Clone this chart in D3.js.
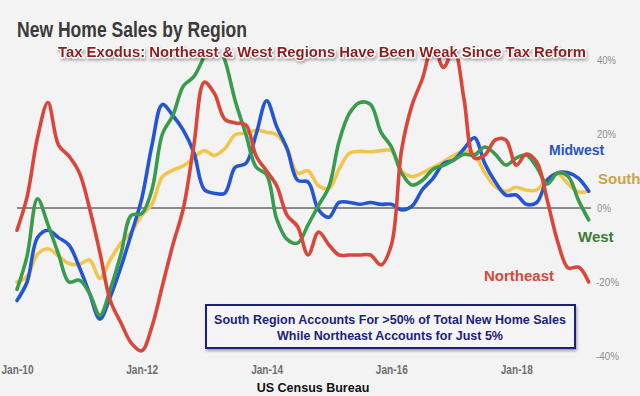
<!DOCTYPE html>
<html>
<head>
<meta charset="utf-8">
<script src="https://cdn.jsdelivr.net/npm/d3@7"></script>
<style>
    body { margin: 0; background: #f3f3f3; }
    svg { display: block; font-family: "Liberation Sans", Arial, sans-serif; }
</style>
</head>
<body>
<svg width="640" height="396"></svg>
<script>
// year-over-year change, % (sampled every 2 months, Dec-09 .. Apr-19)
const northeast = [-6, 3, 19, 28.5, 17, 14, 9.5, 0, -12, -25, -31, -36.5, -38.6, -32, -21, -10, 0, 17, 34, 31,
    24, 23, 22.5, 14, 10, 6, -2, -5, -12.7, -6.5, -10, -12.7, -12.7, -12.7, -12.7, -15.4, -10, 15.7, 27.8, 35,
    44, 38, 43, 29.5, 13.5, 14.3, 18.4, 18.4, 11.6, 14.6, 12.4, 2.2, -9.2, -16.2, -16, -20, -21.4]
const midwest = [-25, -20, -8, -6, -8, -10, -16, -23, -30, -24, -16, -7, 2.5, 17, 28, 25, 21, 15, 5, 4,
    4, 11, 12, 20, 29, 22, 16, 7.5, 7, -0.5, -2.5, 1.5, 1.5, 1, 1.5, 1, 1, -0.5, 0.5, 5,
    8, 12, 13, 16, 19, 12, 7, 3.5, 3.5, 1, 1.5, 7.5, 9.5, 9.5, 8, 4.5, 2]
const south = [-20, -18.5, -12.5, -11, -13, -15, -15.2, -14, -19, -14, -9.5, -6.5, -2, 1, 8.5, 10.2, 11.4, 13.6, 15.5, 14.2,
    16, 19.8, 20.2, 21, 20.5, 19.8, 16, 9.4, 10, 6, 5.3, 10.5, 14.8, 15.3, 15.2, 15.5, 15.5, 10, 8.5, 9.5,
    11, 12.5, 14.2, 15.3, 14.5, 9.5, 5.8, 4.5, 5.6, 4.8, 4.9, 7.8, 9.2, 6.5, 4.3, 4.6, 4.9]
const west = [-22, -13, 2.5, -4.5, -12.5, -20, -19.5, -23, -29, -22, -12.5, -2, -1.5, 5, 20, 25, 33, 35.5, 41, 46,
    40, 29, 20, 11, 9, -3, -8.5, -9.5, -4.5, 0.7, 5.8, 18, 25.6, 28.5, 28, 20.5, 16.5, 9.5, 6.2, 7.5,
    10.5, 11.5, 13, 14.5, 14.3, 16.5, 14.5, 11.6, 13.5, 14.3, 11, 6.5, 9.5, 8.5, 2, -3.2, -2]

const dates = d3.timeMonth.every(2).range(new Date(2009, 11, 1), new Date(2019, 4, 1))
const yTicks = [-40, -20, 0, 20, 40]
const xTicks = [2010, 2012, 2014, 2016, 2018].map(y => new Date(y, 0, 1))

const regions = [
    { name: 'South', values: south, color: '#f2c64e', label: '#c9a548', lx: 598, ly: 184, size: 15 },
    { name: 'Midwest', values: midwest, color: '#2456d3', label: '#2a55c4', lx: 549, ly: 155, size: 14 },
    { name: 'West', values: west, color: '#3b9b4c', label: '#3c7b35', lx: 578, ly: 242, size: 15 },
    { name: 'Northeast', values: northeast, color: '#d8473a', label: '#d8473a', lx: 484, ly: 281, size: 15 }
]

const svg = d3.select('svg')

const x = d3.scaleTime()
    .domain([dates[0], dates[dates.length - 1]])
    .range([17, 588.7])

const y = d3.scaleLinear()
    .domain([-40, 40])
    .range([356, 60])

svg.append('defs').append('clipPath')
    .attr('id', 'plot')
    .append('rect')
    .attr('x', 0).attr('y', 57)
    .attr('width', 640).attr('height', 320)

const shadow = svg.select('defs').append('filter')
    .attr('id', 'shadow')
    .attr('x', '-10%').attr('y', '-30%')
    .attr('width', '120%').attr('height', '160%')
shadow.append('feDropShadow')
    .attr('dx', 1).attr('dy', 2)
    .attr('stdDeviation', 1.5)
    .attr('flood-color', '#000')
    .attr('flood-opacity', 0.35)

// zero line
svg.append('line')
    .attr('x1', 17).attr('x2', 591)
    .attr('y1', y(0)).attr('y2', y(0))
    .attr('stroke', '#222')
    .attr('stroke-width', 1)

const line = d3.line()
    .x((d, i) => x(dates[i]))
    .y(d => y(d))
    .curve(d3.curveCatmullRom.alpha(0.5))

svg.append('g')
    .attr('clip-path', 'url(#plot)')
    .selectAll('path')
    .data(regions)
    .enter().append('path')
    .attr('d', d => line(d.values))
    .attr('fill', 'none')
    .attr('stroke', d => d.color)
    .attr('stroke-width', 3.6)
    .attr('stroke-linejoin', 'round')
    .attr('stroke-linecap', 'round')

// axes
const yAxis = g => g
    .attr('transform', 'translate(594,0)')
    .call(d3.axisRight(y).tickValues(yTicks).tickFormat(d => d + '%').tickSize(0))
    .call(g => g.select('.domain').remove())
    .call(g => g.selectAll('text')
        .attr('x', d => d < 0 ? 2 : 3)
        .attr('fill', '#8f8f8f')
        .style('font-size', '11.5px')
        .attr('textLength', d => d < 0 ? 23 : d === 0 ? 14 : 19)
        .attr('lengthAdjust', 'spacingAndGlyphs'))

const xAxis = g => g
    .attr('transform', 'translate(0,362)')
    .call(d3.axisBottom(x).tickValues(xTicks).tickFormat(d3.timeFormat('%b-%y')).tickSize(0))
    .call(g => g.select('.domain').remove())
    .call(g => g.selectAll('text')
        .attr('fill', '#6e6e6e')
        .style('font-size', '12px')
        .style('font-weight', 'bold')
        .attr('textLength', 32)
        .attr('lengthAdjust', 'spacingAndGlyphs'))

svg.append('g').call(yAxis).attr('font-family', null)
svg.append('g').call(xAxis).attr('font-family', null)

// region labels
svg.append('g')
    .selectAll('text')
    .data(regions)
    .enter().append('text')
    .attr('x', d => d.lx)
    .attr('y', d => d.ly)
    .attr('fill', d => d.label)
    .style('font-size', d => d.size + 'px')
    .style('font-weight', 'bold')
    .text(d => d.name)

// titles
svg.append('text')
    .attr('x', 17).attr('y', 36.5)
    .attr('fill', '#3a3a3a')
    .style('font-size', '21.5px')
    .style('font-weight', 'bold')
    .attr('textLength', 230)
    .attr('lengthAdjust', 'spacingAndGlyphs')
    .text('New Home Sales by Region')

svg.append('text')
    .attr('x', 58).attr('y', 56.5)
    .attr('fill', '#8e1b1b')
    .attr('stroke', '#fff')
    .attr('stroke-width', 2.5)
    .attr('paint-order', 'stroke')
    .attr('filter', 'url(#shadow)')
    .style('font-size', '15px')
    .style('font-weight', 'bold')
    .attr('textLength', 528)
    .attr('lengthAdjust', 'spacingAndGlyphs')
    .text('Tax Exodus: Northeast & West Regions Have Been Weak Since Tax Reform')

// note box
const note = svg.append('g')
note.append('rect')
    .attr('x', 206).attr('y', 305)
    .attr('width', 369).attr('height', 43)
    .attr('fill', '#f5f5f7')
    .attr('stroke', '#1b237a')
    .attr('stroke-width', 2)
    .attr('filter', 'url(#shadow)')
note.selectAll('text')
    .data(['South Region Accounts For >50% of Total New Home Sales', 'While Northeast Accounts for Just 5%'])
    .enter().append('text')
    .attr('x', 390)
    .attr('y', (d, i) => 324 + i * 15.5)
    .attr('text-anchor', 'middle')
    .attr('fill', '#1b237a')
    .style('font-size', '12.5px')
    .style('font-weight', 'bold')
    .text(d => d)

svg.append('text')
    .attr('x', 313).attr('y', 391.5)
    .attr('text-anchor', 'middle')
    .attr('fill', '#111')
    .style('font-size', '12.5px')
    .style('font-weight', 'bold')
    .text('US Census Bureau')
</script>
</body>
</html>
